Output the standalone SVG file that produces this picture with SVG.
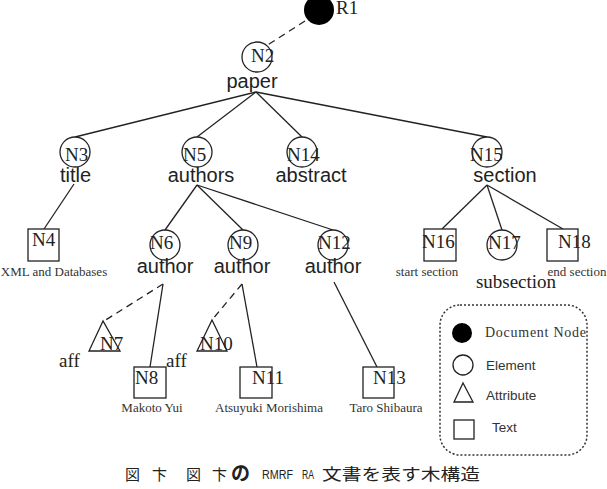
<svg xmlns="http://www.w3.org/2000/svg" width="607" height="489" viewBox="0 0 607 489">
<style>
.shape{fill:#fff;stroke:#222;stroke-width:1.3}
.edge{stroke:#222;stroke-width:1.3;fill:none}
.dash{stroke-dasharray:7 5}
.id{font-family:"Liberation Serif",serif;font-size:19px;fill:#222}
.tag{font-family:"Liberation Sans",sans-serif;font-size:20px;fill:#222}
.val{font-family:"Liberation Serif",serif;font-size:13px;fill:#333;text-anchor:middle}
.lg{font-family:"Liberation Sans",sans-serif;font-size:13.5px;fill:#333}
.cap{font-family:"Liberation Sans","Noto Sans CJK JP",sans-serif;fill:#222}
</style>
<g id="connectors">
<line class="edge dash" x1="305" y1="21" x2="266" y2="46"/>
<line class="edge" x1="256" y1="92" x2="75" y2="137"/>
<line class="edge" x1="256" y1="92" x2="197" y2="137"/>
<line class="edge" x1="256" y1="92" x2="302" y2="137"/>
<line class="edge" x1="256" y1="92" x2="487" y2="137"/>
<line class="edge" x1="74" y1="184" x2="44" y2="229"/>
<line class="edge" x1="197" y1="185" x2="165" y2="230"/>
<line class="edge" x1="197" y1="185" x2="243" y2="230"/>
<line class="edge" x1="197" y1="185" x2="333" y2="230"/>
<line class="edge" x1="487" y1="185" x2="442" y2="229"/>
<line class="edge" x1="487" y1="185" x2="502" y2="230"/>
<line class="edge" x1="487" y1="185" x2="563" y2="229"/>
<line class="edge dash" x1="163" y1="284" x2="104" y2="321"/>
<line class="edge" x1="163" y1="284" x2="150" y2="367"/>
<line class="edge dash" x1="242" y1="284" x2="212" y2="320"/>
<line class="edge" x1="242" y1="284" x2="257" y2="367"/>
<line class="edge" x1="334" y1="282" x2="377" y2="367"/>
</g>
<g id="R1"><circle cx="319" cy="10" r="15" fill="#000"/><text class="id" x="336" y="14" font-size="14">R1</text></g>
<g id="N2"><circle class="shape" cx="257" cy="57" r="15"/><text class="id" x="251" y="62">N2</text><text class="tag" x="252" y="88" text-anchor="middle">paper</text></g>
<g id="N3"><circle class="shape" cx="75" cy="152" r="15"/><text class="id" x="65" y="161">N3</text><text class="tag" x="75.5" y="182" text-anchor="middle">title</text></g>
<g id="N5"><circle class="shape" cx="197" cy="152" r="15"/><text class="id" x="183" y="161">N5</text><text class="tag" x="201" y="182" text-anchor="middle">authors</text></g>
<g id="N14"><circle class="shape" cx="302" cy="152" r="15"/><text class="id" x="287" y="161">N14</text><text class="tag" x="311" y="182" text-anchor="middle">abstract</text></g>
<g id="N15"><circle class="shape" cx="487" cy="152" r="15"/><text class="id" x="470" y="161">N15</text><text class="tag" x="505" y="182" text-anchor="middle">section</text></g>
<g id="N4"><rect class="shape" x="28" y="229" width="31" height="32"/><text class="id" x="32" y="246">N4</text><text class="val" x="54" y="276">XML and Databases</text></g>
<g id="N6"><circle class="shape" cx="165" cy="245" r="15"/><text class="id" x="150" y="249">N6</text><text class="tag" x="165" y="273" text-anchor="middle">author</text></g>
<g id="N9"><circle class="shape" cx="243" cy="245" r="15"/><text class="id" x="229" y="249">N9</text><text class="tag" x="242" y="273" text-anchor="middle">author</text></g>
<g id="N12"><circle class="shape" cx="333" cy="245" r="15"/><text class="id" x="318" y="249">N12</text><text class="tag" x="333" y="273" text-anchor="middle">author</text></g>
<g id="N16"><rect class="shape" x="424" y="229" width="32" height="32"/><text class="id" x="422" y="248">N16</text><text class="val" x="427" y="276">start section</text></g>
<g id="N17"><circle class="shape" cx="502" cy="245" r="15"/><text class="id" x="488" y="249">N17</text><text class="id" x="516" y="288" font-size="20" text-anchor="middle">subsection</text></g>
<g id="N18"><rect class="shape" x="547" y="229" width="31" height="32"/><text class="id" x="558" y="248">N18</text><text class="val" x="577" y="276">end section</text></g>
<g id="N7"><polygon class="shape" points="103,321 89,351 120,351"/><text class="id" x="100" y="350">N7</text><text class="id" x="59" y="367" font-size="20">aff</text></g>
<g id="N8"><rect class="shape" x="134" y="367" width="32" height="31"/><text class="id" x="135" y="384">N8</text><text class="val" x="152" y="412">Makoto Yui</text></g>
<g id="N10"><polygon class="shape" points="212,320 197,351 227,351"/><text class="id" x="200" y="350">N10</text><text class="id" x="166" y="367" font-size="20">aff</text></g>
<g id="N11"><rect class="shape" x="240" y="367" width="32" height="31"/><text class="id" x="252" y="384">N11</text><text class="val" x="269" y="412">Atsuyuki Morishima</text></g>
<g id="N13"><rect class="shape" x="363" y="367" width="31" height="31"/><text class="id" x="373" y="384">N13</text><text class="val" x="386" y="412">Taro Shibaura</text></g>
<g id="legend">
<rect x="440" y="305" width="147" height="150" rx="20" fill="none" stroke="#333" stroke-width="1.5" stroke-dasharray="2 2"/>
<circle cx="462" cy="333" r="10" fill="#000"/>
<text x="485" y="337" font-family="Liberation Serif,serif" font-size="14" fill="#333" textLength="101" lengthAdjust="spacing">Document  Node</text>
<circle cx="463" cy="365" r="10" fill="#fff" stroke="#222" stroke-width="1.3"/>
<text class="lg" x="486" y="370">Element</text>
<polygon points="463,383 454,402 473,402" fill="#fff" stroke="#222" stroke-width="1.3"/>
<text class="lg" x="486" y="400">Attribute</text>
<rect x="454" y="420" width="20" height="19" fill="#fff" stroke="#222" stroke-width="1.3"/>
<text class="lg" x="492" y="432">Text</text>
</g>
<g id="caption">
<text class="cap" x="125" y="480" font-size="15">図</text>
<text class="cap" x="152" y="480" font-size="15">卞</text>
<text class="cap" x="186" y="480" font-size="15">図</text>
<text class="cap" x="212" y="480" font-size="15">卞</text>
<text class="cap" x="231" y="480" font-size="19" font-weight="bold">の</text>
<text class="cap" x="262" y="479" font-size="12" textLength="31" lengthAdjust="spacingAndGlyphs">RMRF</text>
<text class="cap" x="302" y="479" font-size="12" textLength="12" lengthAdjust="spacingAndGlyphs">RA</text>
<text class="cap" x="322" y="480" font-size="16" textLength="158" lengthAdjust="spacingAndGlyphs">文書を表す木構造</text>
</g>
</svg>
